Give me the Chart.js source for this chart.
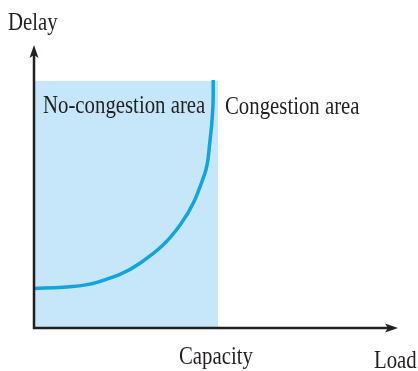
<!DOCTYPE html>
<html>
<head>
<meta charset="utf-8">
<script src="https://cdn.jsdelivr.net/npm/chart.js@4"></script>
<style>
  html, body { margin: 0; padding: 0; background: #ffffff; }
  #wrap { width: 418px; height: 371px; }
</style>
</head>
<body>
<div id="wrap"><canvas id="delayChart" width="418" height="371"></canvas></div>
<script>
// Delay vs load curve
const loadValues = [0, 0.79, 1.71, 2.88, 3.97, 4.63, 4.78, 4.86, 4.87];
const delayValues = [1.40, 1.44, 1.61, 2.29, 3.64, 5.41, 6.58, 7.77, 8.76];

// No-congestion area (load 0 .. capacity)
const capacity = 5;
const areaTop = 8.73;
const areaX = [0, capacity];

// Labels
const yLabel = 'Delay';
const xLabel = 'Load';
const capacityLabel = 'Capacity';
const leftAreaLabel = 'No-congestion area';
const rightAreaLabel = 'Congestion area';

const inkColor = '#231f20';
const curveColor = '#11a3e2';
const shadeColor = '#c6e7f9';

// Draws text squeezed horizontally like the condensed serif in the figure
function drawLabel(ctx, text, x, y) {
  ctx.save();
  ctx.translate(x, y);
  ctx.scale(0.8, 1);
  ctx.fillText(text, 0, 0);
  ctx.restore();
}

// Axes with arrows plus the text labels
const diagramPlugin = {
  id: 'diagram',
  afterDatasetsDraw(chart) {
    const { ctx, chartArea, scales } = chart;
    const x0 = chartArea.left;
    const y0 = scales.y.getPixelForValue(0);
    const topY = chartArea.top;
    const rightX = chartArea.right - 4;

    ctx.save();
    ctx.strokeStyle = inkColor;
    ctx.fillStyle = inkColor;
    ctx.lineWidth = 2.5;

    // y axis
    ctx.beginPath();
    ctx.moveTo(x0, y0 + 1);
    ctx.lineTo(x0, topY + 8);
    ctx.stroke();
    ctx.beginPath();
    ctx.moveTo(x0, topY);
    ctx.lineTo(x0 - 4.5, topY + 13);
    ctx.lineTo(x0, topY + 10);
    ctx.lineTo(x0 + 4.5, topY + 13);
    ctx.closePath();
    ctx.fill();

    // x axis
    ctx.beginPath();
    ctx.moveTo(x0 - 1, y0);
    ctx.lineTo(rightX - 8, y0);
    ctx.stroke();
    ctx.beginPath();
    ctx.moveTo(rightX, y0);
    ctx.lineTo(rightX - 13, y0 - 4.5);
    ctx.lineTo(rightX - 10, y0);
    ctx.lineTo(rightX - 13, y0 + 4.5);
    ctx.closePath();
    ctx.fill();

    ctx.font = '26px "Liberation Serif", "DejaVu Serif", serif';
    ctx.textBaseline = 'alphabetic';
    ctx.textAlign = 'left';
    drawLabel(ctx, yLabel, 8, 30);
    drawLabel(ctx, leftAreaLabel, 43, 113);
    drawLabel(ctx, rightAreaLabel, 225, 114);
    drawLabel(ctx, capacityLabel, scales.x.getPixelForValue(capacity) - 39, 364);
    drawLabel(ctx, xLabel, 374, 368);
    ctx.restore();
  }
};

new Chart(document.getElementById('delayChart').getContext('2d'), {
  type: 'line',
  data: {
    datasets: [
      {
        label: 'Delay',
        data: loadValues.map((x, i) => ({ x: x, y: delayValues[i] })),
        borderColor: curveColor,
        borderWidth: 3.5,
        pointRadius: 0,
        fill: false,
        tension: 0.4,
        borderCapStyle: 'butt'
      },
      {
        label: 'No-congestion area',
        data: areaX.map(x => ({ x: x, y: areaTop })),
        borderWidth: 0,
        borderColor: 'rgba(0,0,0,0)',
        backgroundColor: shadeColor,
        pointRadius: 0,
        fill: 'origin'
      }
    ]
  },
  options: {
    responsive: false,
    animation: false,
    layout: { padding: { left: 34, right: 16, top: 45, bottom: 43 } },
    plugins: {
      legend: { display: false },
      tooltip: { enabled: false }
    },
    scales: {
      x: { type: 'linear', min: 0, max: 10, display: false },
      y: { type: 'linear', min: 0, max: 10, display: false }
    }
  },
  plugins: [diagramPlugin]
});
</script>
</body>
</html>
